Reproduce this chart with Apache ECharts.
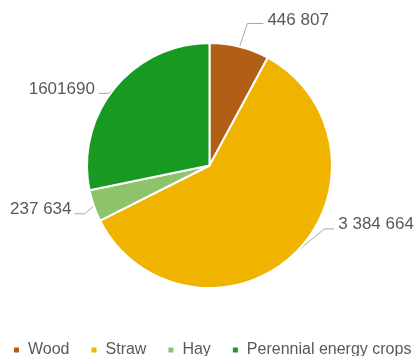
<!DOCTYPE html>
<html><head><meta charset="utf-8">
<script src="https://cdn.jsdelivr.net/npm/echarts@6/dist/echarts.min.js"></script>
<style>html,body{margin:0;padding:0;background:#fff}#c{width:414px;height:356px}</style>
</head><body><div id="c"></div>
<script>
const categories = ['Wood', 'Straw', 'Hay', 'Perennial energy crops'];
const values = [446807, 3384664, 237634, 1601690];
const labelTexts = ['446 807', '3 384 664', '237 634', '1601690'];
const colors = ['#B15F17', '#F0B400', '#8DC36A', '#189A22'];

// label line lengths, line nudges and text nudges per slice (style, not data)
const lineLens = [[24, 16], [12, 10], [12, 10], [6, 10]];
const lineShift = [[2, 0], [21, -33], [2, 4], [-1, 9]];
const textShift = [[2, -3], [21, -38], [3, 0], [-1, 5]];

const chart = echarts.init(document.getElementById('c'), null, {renderer: 'canvas'});
chart.setOption({
  animation: false,
  color: colors,
  legend: {
    data: categories,
    left: 12,
    bottom: -2,
    width: 420,
    padding: 0,
    icon: 'rect',
    itemWidth: 7,
    itemHeight: 7,
    itemGap: 20,
    textStyle: {color: '#595959', fontSize: 16, fontFamily: 'Liberation Sans', padding: [0, 0, 0, 3]}
  },
  series: [{
    type: 'pie',
    center: [209.5, 165.5],
    radius: 122.5,
    startAngle: 90,
    clockwise: true,
    itemStyle: {borderColor: '#fff', borderWidth: 2},
    label: {
      show: true,
      position: 'outside',
      color: '#595959',
      fontSize: 17,
      fontFamily: 'Liberation Sans',
      overflow: 'none',
      formatter: p => labelTexts[p.dataIndex],
      distanceToLabelLine: 4
    },
    labelLine: {show: true, lineStyle: {color: '#A6A6A6', width: 1}},
    labelLayout: p => {
      const [lx, ly] = lineShift[p.dataIndex];
      const [tx, ty] = textShift[p.dataIndex];
      const pts = p.labelLinePoints.map(q => q.slice());
      if (pts.length === 3) {
        pts[1] = [pts[1][0] + lx, pts[1][1] + ly];
        pts[2] = [pts[2][0] + lx, pts[2][1] + ly];
      }
      return {dx: tx, dy: ty, labelLinePoints: pts};
    },
    data: categories.map((c, i) => ({
      name: c, value: values[i],
      labelLine: {length: lineLens[i][0], length2: lineLens[i][1]}
    }))
  }]
});
</script></body></html>
